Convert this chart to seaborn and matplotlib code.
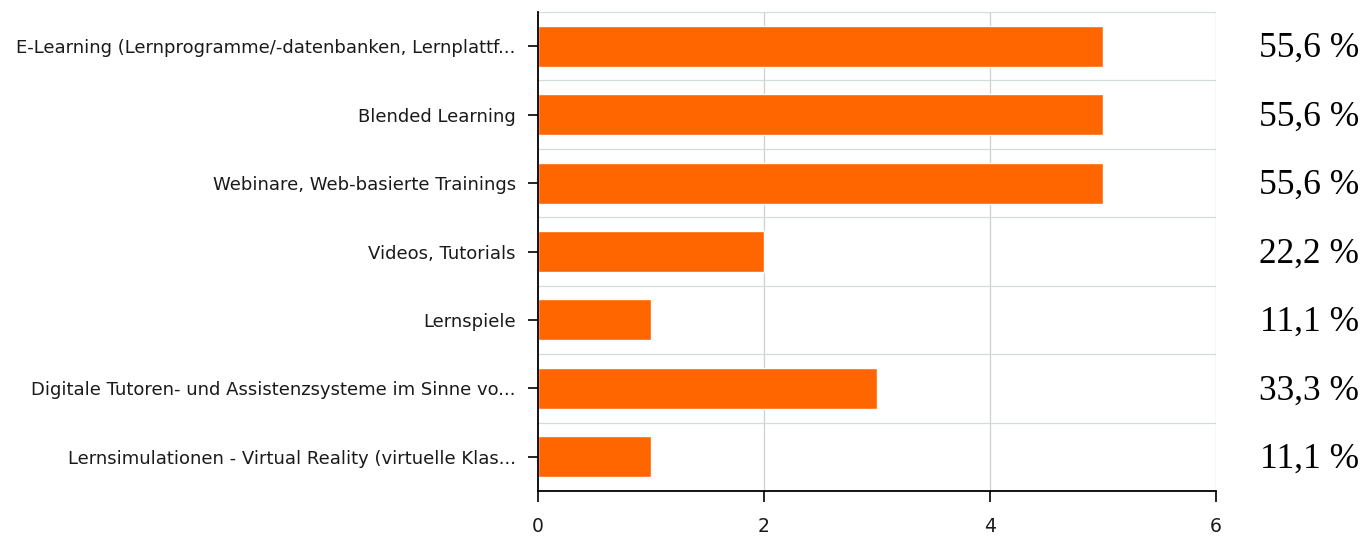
import matplotlib
matplotlib.use("Agg")
import matplotlib.pyplot as plt
import seaborn as sns
import pandas as pd

categories = [
    "E-Learning (Lernprogramme/-datenbanken, Lernplattf...",
    "Blended Learning",
    "Webinare, Web-basierte Trainings",
    "Videos, Tutorials",
    "Lernspiele",
    "Digitale Tutoren- und Assistenzsysteme im Sinne vo...",
    "Lernsimulationen - Virtual Reality (virtuelle Klas...",
]
counts = [5, 5, 5, 2, 1, 3, 1]
respondents = 9
x_ticks = [0, 2, 4, 6]

df = pd.DataFrame({"Kategorie": categories, "Anzahl": counts})

sns.set_theme(style="white")
plt.rcParams["font.family"] = ["DejaVu Sans"]

fig = plt.figure(figsize=(13.64, 5.37), dpi=100)
ax = fig.add_axes([538 / 1364, 1 - 491 / 537, (1216 - 538) / 1364, (491 - 12) / 537])

sns.barplot(data=df, y="Kategorie", x="Anzahl", orient="h", color="#FF6600",
            saturation=1, width=0.6, ax=ax, zorder=3)

ax.set_xlim(0, 6)
ax.set_ylim(len(categories) - 0.5, -0.5)
ax.set_xticks(x_ticks)
ax.set_xticklabels([str(t) for t in x_ticks], fontsize=13.5, color="#1a1a1a")
ax.set_xlabel("")
ax.set_ylabel("")
ax.tick_params(axis="y", labelsize=13, labelcolor="#1a1a1a", length=7, width=1.2,
               color="black", pad=9, left=True)
ax.tick_params(axis="x", length=8, width=1.2, color="black", pad=11, bottom=True)

# grid: vertical lines at x ticks, horizontal lines between categories
for xv in x_ticks[1:]:
    ax.axvline(xv, color="#cfcfcf", lw=0.9, zorder=1)
for k in range(len(categories) + 1):
    ax.axhline(k - 0.5, color="#d3dbdb", lw=0.9, zorder=1)

for side in ["top", "right"]:
    ax.spines[side].set_visible(False)
for side in ["left", "bottom"]:
    ax.spines[side].set_color("black")
    ax.spines[side].set_linewidth(1.3)
    ax.spines[side].set_zorder(4)

# percentage share of respondents, right of the plot area
for i, c in enumerate(counts):
    pct = f"{c / respondents * 100:.1f}".replace(".", ",") + " %"
    ax.annotate(pct, xy=(1.0, i), xycoords=("axes fraction", "data"),
                xytext=(143, -11), textcoords="offset pixels",
                ha="right", va="baseline", fontsize=25.5,
                family=["Liberation Serif", "DejaVu Serif"], color="black",
                annotation_clip=False)

fig.savefig("out.png", dpi=100)
